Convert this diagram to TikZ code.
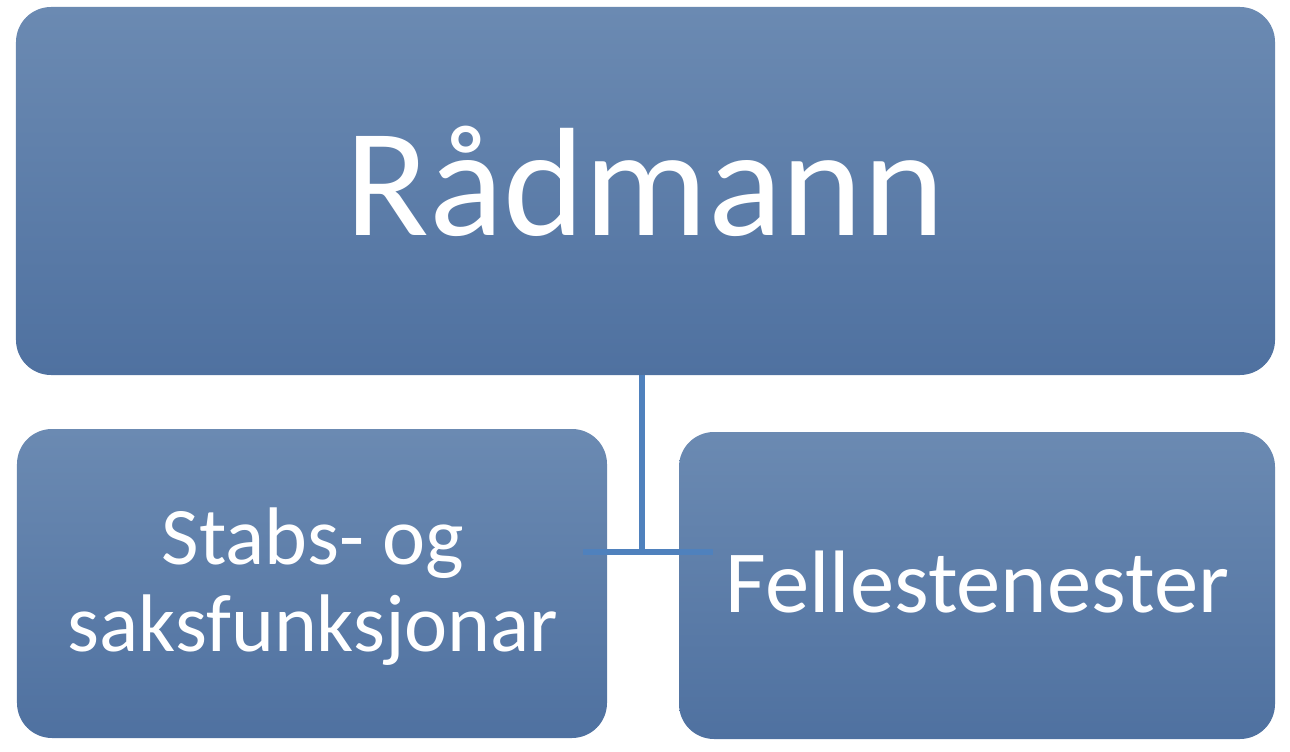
\documentclass[tikz,border=0pt]{standalone}
\usepackage{fontspec}
\setmainfont{Carlito}
\usetikzlibrary{positioning}

\definecolor{boxtop}{RGB}{107,138,178}
\definecolor{boxbot}{RGB}{79,113,160}
\definecolor{linkblue}{RGB}{79,129,189}

\begin{document}
\begin{tikzpicture}[x=1bp,y=-1bp]

        \tikzstyle{orgbox}=[draw=none,rounded corners=35bp,top color=boxtop,bottom color=boxbot,inner sep=0pt]
        \tikzstyle{orgtext}=[text=white,inner sep=0pt,anchor=base,align=center]
        \tikzstyle{link}=[draw=linkblue,line width=6bp]

        \useasboundingbox (0,0) rectangle (1290,752);

        \node[orgbox,minimum width=1259bp,minimum height=368bp] (top) at (645.5,191) {};
        \node[orgbox,minimum width=590bp,minimum height=309bp] (stab) at (312,583.5) {};
        \node[orgbox,minimum width=596bp,minimum height=307bp] (felles) at (977,585.5) {};

        \node[orgtext,font=\fontsize{155}{160}\selectfont] (topTxt) at (645,235) {Rådmann};
        \node[orgtext,font=\fontsize{82}{87}\selectfont] (stabTxt) at (313,651) {Stabs- og\\saksfunksjonar};
        \node[orgtext,font=\fontsize{89}{94}\selectfont] (fellesTxt) at (977.5,612) {Fellestenester};

        \coordinate (hub) at (642,552);
        \coordinate (hubL) at (583,552);
        \coordinate (hubR) at (713,552);

        \draw[link] (top.south -| hub) -- (hub);
        \draw[link] (hubL) -- (hubR);

      \end{tikzpicture}
\end{document}
